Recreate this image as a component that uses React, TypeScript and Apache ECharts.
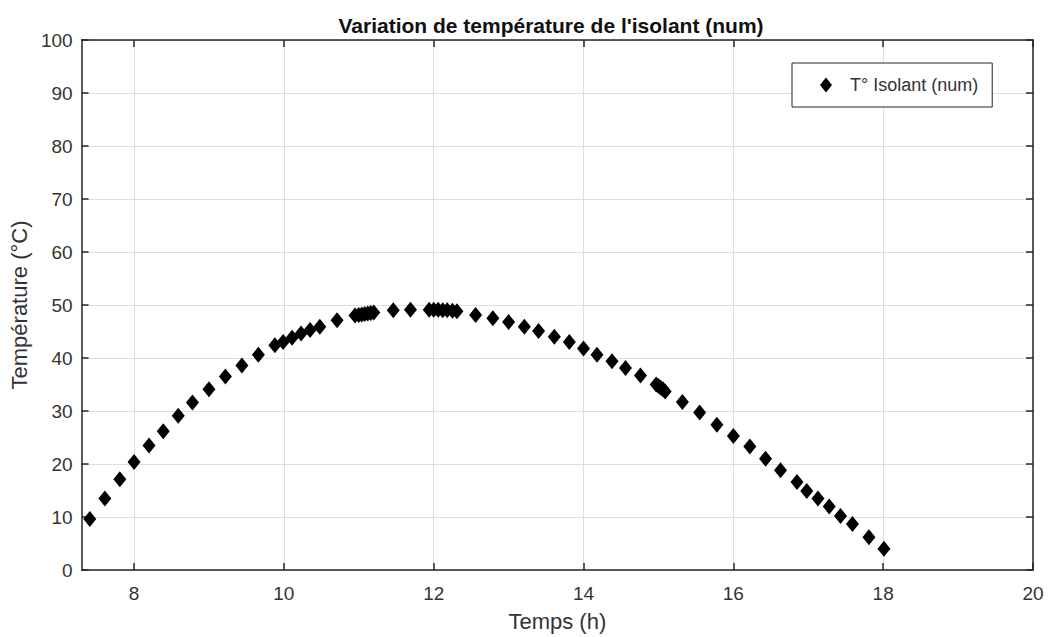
import React, { useEffect, useRef } from "react";
import * as echarts from "echarts";

const titleText = "Variation de température de l'isolant (num)";
const xName = "Temps (h)";
const yName = "Température (°C)";
const seriesName = "T° Isolant (num)";

const xTicks = [8, 10, 12, 14, 16, 18, 20];

const timeH = [
  7.41, 7.61, 7.81, 8.0, 8.2, 8.39, 8.59, 8.78, 9.0, 9.22,
  9.44, 9.66, 9.88, 9.99, 10.11, 10.23, 10.35, 10.48, 10.71, 10.95,
  11.0, 11.04, 11.08, 11.12, 11.16, 11.2, 11.46, 11.69, 11.94, 12.0,
  12.06, 12.12, 12.18, 12.25, 12.31, 12.56, 12.79, 13.0, 13.21, 13.4,
  13.61, 13.81, 14.0, 14.18, 14.38, 14.56, 14.76, 14.97, 15.0, 15.03,
  15.06, 15.09, 15.32, 15.55, 15.78, 16.0, 16.22, 16.43, 16.63, 16.85,
  16.98, 17.13, 17.28, 17.43, 17.59, 17.81, 18.01,
];

const tempC = [
  9.6, 13.5, 17.1, 20.4, 23.5, 26.2, 29.1, 31.6, 34.1, 36.5,
  38.6, 40.6, 42.4, 43.0, 43.8, 44.6, 45.3, 45.9, 47.1, 48.0,
  48.1, 48.2, 48.3, 48.4, 48.5, 48.6, 49.0, 49.1, 49.1, 49.1,
  49.1, 49.0, 49.0, 48.9, 48.8, 48.1, 47.5, 46.8, 45.9, 45.1,
  44.0, 43.0, 41.8, 40.6, 39.4, 38.1, 36.7, 35.0, 34.7, 34.4,
  34.1, 33.7, 31.7, 29.7, 27.4, 25.3, 23.3, 21.0, 18.8, 16.6,
  14.9, 13.5, 12.0, 10.2, 8.7, 6.2, 4.0,
];

const FONT = "'Liberation Sans', Arial, Helvetica, sans-serif";
const AXIS_COLOR = "#262626";
const LABEL_COLOR = "#333333";
const GRID_COLOR = "#dedede";

export default function App() {
  const ref = useRef<HTMLDivElement>(null);

  useEffect(() => {
    if (!ref.current) return;
    const chart = echarts.init(ref.current, null, { renderer: "svg" });
    const data = timeH.map((t, i) => [t, tempC[i]]);

    const axisLine = { show: true, onZero: false, lineStyle: { color: AXIS_COLOR, width: 1.5 } };

    chart.setOption({
      animation: false,
      backgroundColor: "#ffffff",
      title: {
        text: titleText,
        left: 546,
        top: 10,
        textAlign: "center",
        textStyle: { fontFamily: FONT, fontSize: 21, fontWeight: "bold", color: "#111" },
      },
      legend: {
        data: [seriesName],
        left: 792,
        top: 63,
        icon: "diamond",
        itemWidth: 12,
        itemHeight: 15,
        backgroundColor: "#ffffff",
        borderColor: AXIS_COLOR,
        borderWidth: 1,
        borderRadius: 0,
        padding: [13, 14, 13, 28],
        textStyle: { fontFamily: FONT, fontSize: 18, color: "#333", padding: [0, 0, 0, 13] },
      },
      grid: { left: 81, right: 15, top: 40, bottom: 66, containLabel: false },
      xAxis: [
        {
          type: "value",
          min: 7.3,
          max: 20,
          position: "bottom",
          name: xName,
          nameLocation: "middle",
          nameGap: 40,
          nameTextStyle: { fontFamily: FONT, fontSize: 22, color: LABEL_COLOR },
          axisLine,
          axisTick: { show: true, inside: true, length: 7, customValues: xTicks, lineStyle: { color: AXIS_COLOR, width: 1.5 } },
          axisLabel: { customValues: xTicks, margin: 14, fontFamily: FONT, fontSize: 19, color: LABEL_COLOR },
          splitLine: { show: true, lineStyle: { color: GRID_COLOR, width: 1 } },
        },
        {
          type: "value",
          min: 7.3,
          max: 20,
          position: "top",
          axisLine,
          axisTick: { show: true, inside: true, length: 7, customValues: xTicks, lineStyle: { color: AXIS_COLOR, width: 1.5 } },
          axisLabel: { show: false },
          splitLine: { show: false },
        },
      ],
      yAxis: [
        {
          type: "value",
          min: 0,
          max: 100,
          interval: 10,
          position: "left",
          name: yName,
          nameLocation: "middle",
          nameGap: 51,
          nameRotate: 90,
          nameTextStyle: { fontFamily: FONT, fontSize: 22, color: LABEL_COLOR },
          axisLine,
          axisTick: { show: true, inside: true, length: 7, lineStyle: { color: AXIS_COLOR, width: 1.5 } },
          axisLabel: { margin: 9, fontFamily: FONT, fontSize: 19, color: LABEL_COLOR },
          splitLine: { show: true, lineStyle: { color: GRID_COLOR, width: 1 } },
        },
        {
          type: "value",
          min: 0,
          max: 100,
          interval: 10,
          position: "right",
          axisLine,
          axisTick: { show: true, inside: true, length: 7, lineStyle: { color: AXIS_COLOR, width: 1.5 } },
          axisLabel: { show: false },
          splitLine: { show: false },
        },
      ],
      series: [
        {
          name: seriesName,
          type: "scatter",
          xAxisIndex: 0,
          yAxisIndex: 0,
          symbol: "diamond",
          symbolSize: [13, 16],
          itemStyle: { color: "#000000", opacity: 1 },
          data,
        },
      ],
    });

    return () => chart.dispose();
  }, []);

  return (
    <div
      ref={ref}
      style={{ position: "fixed", left: 0, top: 0, width: 1048, height: 637, background: "#fff" }}
    />
  );
}
